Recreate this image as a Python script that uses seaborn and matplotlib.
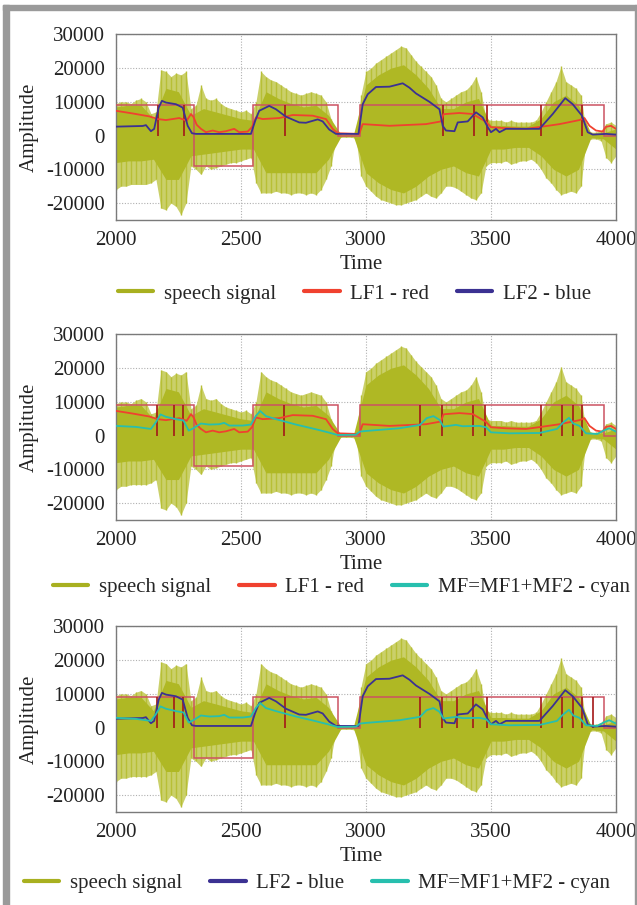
import matplotlib.pyplot as plt
import seaborn as sns
from matplotlib.patches import Rectangle
from matplotlib.lines import Line2D

# speech signal: spike peaks every 20 samples
sig_t = list(range(2000, 4001, 20))
sig_hi = [9500, 10000, 10000, 9500, 10500, 11000, 10000, 6500, 7000, 19500,
          19000, 17500, 18500, 18000, 19000, 8000, 9000, 15000, 11000, 10500,
          11000, 9500, 8500, 8000, 7500, 7000, 7500, 6500, 10000, 19000,
          17500, 16500, 16000, 15000, 14000, 13000, 12500, 12000, 12500, 13000,
          12500, 12000, 10000, 5000, 1000, 500, 500, 500, 800, 12000,
          19000, 20000, 21500, 22500, 23500, 24500, 25500, 26500, 26000, 24000,
          22000, 20500, 19000, 17500, 15000, 11000, 10000, 11000, 12000, 13000,
          13500, 15000, 17500, 13000, 5000, 4500, 4500, 4500, 4000, 4500,
          4000, 4000, 4000, 4000, 4500, 7000, 10000, 13000, 16000, 20500,
          16000, 15000, 14000, 12000, 1500, 1000, 1000, 1500, 3500, 4000, 3000]
sig_lo = [-16000, -15000, -15000, -14500, -14500, -14500, -14500, -14000, -13000, -21500,
          -22000, -20000, -21000, -23500, -20000, -9000, -10000, -11500, -9000, -10000,
          -9500, -9000, -8500, -8000, -8000, -7500, -7000, -6500, -14000, -17000,
          -17000, -17000, -16500, -17000, -17000, -17500, -17000, -17000, -17500, -17000,
          -17500, -16000, -13000, -9000, -1000, -500, -500, -500, -800, -12000,
          -15000, -16500, -18000, -19000, -19500, -20000, -20500, -20500, -20000, -19500,
          -19000, -18000, -17000, -18000, -18500, -17000, -15000, -15000, -15500, -16500,
          -17500, -18500, -19000, -17000, -9000, -8000, -8000, -8000, -7500, -8500,
          -8000, -7500, -7500, -7000, -8000, -10000, -12500, -14000, -16000, -17500,
          -17000, -16500, -17000, -15000, -1500, -1000, -1000, -1500, -6500, -8000, -6000]

# dense core of the signal
core_t = list(range(2000, 4001, 50))
core_hi = [8500, 9000, 9000, 5000, 14000, 13000, 6000, 8000, 7000, 6000,
           5000, 4500, 13000, 11000, 9500, 8500, 9000, 6000, 300, 300,
           15000, 18000, 20000, 21000, 18000, 14000, 8000, 8000, 10000, 11000,
           3000, 3000, 2800, 2800, 5000, 10000, 12000, 9000, 600, 800, 2000]
core_lo = [-8000, -7500, -7500, -7000, -13000, -13000, -6000, -5500, -5000, -4500,
           -4000, -4000, -11000, -11000, -11000, -11000, -11000, -7000, -300, -300,
           -11000, -14000, -16000, -17000, -15000, -12000, -10000, -9000, -11000, -12000,
           -4000, -4000, -3500, -3500, -6000, -10000, -12000, -10000, -600, -1000, -4000]

# segmentation box
box_edges = [2000, 2313, 2550, 2889, 2975, 3951, 4000]
box_levels = [9000, -9000, 9000, 0, 9000, 0]

seg1 = [2167, 2273, 2677, 3307, 3431, 3483, 3700, 3863]
seg2 = [2164, 2231, 2270, 2674, 3218, 3304, 3430, 3478, 3700, 3784, 3827, 3863]
seg3 = [2164, 2231, 2270, 2676, 3218, 3304, 3363, 3430, 3483, 3700, 3784, 3827,
        3863, 3907]

lf1_t = [2000, 2067, 2133, 2167, 2200, 2253, 2283, 2300, 2311, 2323, 2340, 2360,
         2387, 2413, 2440, 2473, 2493, 2527, 2544, 2560, 2587, 2653, 2707, 2787,
         2840, 2867, 2887, 2973, 2987, 3094, 3240, 3300, 3310, 3320, 3374, 3427,
         3480, 3500, 3560, 3640, 3700, 3774, 3854, 3874, 3894, 3920, 3947, 3960,
         3980, 4000]
lf1_v = [7350, 6560, 5700, 4900, 4600, 5200, 4400, 6400, 5400, 3200, 2000, 1000,
         1500, 1000, 1300, 2000, 1000, 1200, 2500, 5400, 4900, 5200, 6100, 5900,
         4900, 2000, 700, 500, 3400, 2900, 3400, 4200, 6300, 6400, 6700, 6400,
         4100, 2500, 2200, 2000, 2600, 3400, 4600, 5200, 2900, 1500, 1200, 2600,
         2900, 2000]

lf2_t = [2000, 2107, 2120, 2140, 2153, 2171, 2184, 2200, 2240, 2267, 2287, 2304,
         2320, 2540, 2557, 2573, 2613, 2640, 2680, 2733, 2760, 2807, 2827, 2853,
         2880, 2970, 2987, 3007, 3040, 3094, 3147, 3174, 3200, 3254, 3294, 3307,
         3320, 3354, 3367, 3407, 3440, 3467, 3487, 3500, 3520, 3534, 3560, 3694,
         3747, 3797, 3827, 3864, 3887, 3907, 3960, 4000]
lf2_v = [2650, 2850, 3100, 1300, 2000, 8300, 10300, 9800, 9300, 8300, 2900, 700,
         500, 500, 4400, 7350, 8800, 7800, 5600, 3900, 3800, 4800, 4200, 1800,
         500, 500, 9300, 12250, 14400, 14500, 15500, 14200, 12500, 10000, 7800, 2900,
         1500, 1300, 3900, 4200, 6900, 5400, 2500, 1000, 2000, 1000, 2000, 2000,
         6400, 11100, 9300, 5900, 1000, 300, 500, 300]

mf_t = [2000, 2080, 2140, 2160, 2178, 2200, 2240, 2270, 2291, 2307, 2340, 2373,
        2413, 2433, 2453, 2507, 2540, 2560, 2577, 2600, 2640, 2720, 2800, 2853,
        2887, 2960, 2975, 3000, 3134, 3216, 3243, 3270, 3294, 3310, 3360, 3387,
        3454, 3480, 3500, 3574, 3694, 3764, 3787, 3812, 3829, 3854, 3880, 3925,
        3953, 3973, 4000]
mf_v = [2900, 2600, 2000, 4000, 6300, 5600, 4900, 4500, 1500, 2100, 3600, 3300,
        3400, 3800, 3000, 3000, 3300, 5900, 7300, 5800, 4900, 3300, 1900, 900,
        200, 300, 1200, 1400, 2200, 3200, 5200, 5800, 4700, 2700, 3200, 2800,
        2900, 2500, 1000, 700, 800, 2000, 3800, 5300, 3600, 2900, 700, 500,
        1600, 2200, 1200]

OLIVE = "#afb824"
OLIVE_LT = "#cad06a"
OLIVE_MID = "#b7bf36"
RED = "#f0412f"
BLUE = "#3b3192"
CYAN = "#27bfae"
BOX = "#cc5262"
SEG = "#a41818"

sns.set_theme(style="whitegrid")
plt.rcParams["font.family"] = ["Liberation Serif", "DejaVu Serif"]
plt.rcParams["axes.unicode_minus"] = False

fig = plt.figure(figsize=(6.37, 9.05), dpi=100)

# (axes bottom, segment lines, curves, legend x px, legend y px)
panels = [
    (0.757, seg1, ["lf1", "lf2"], 118, 294),
    (0.4254, seg2, ["lf1", "mf"], 53, 587),
    (0.1028, seg3, ["lf2", "mf"], 24, 883),
]
curves = {
    "lf1": (lf1_t, lf1_v, RED, "LF1 - red"),
    "lf2": (lf2_t, lf2_v, BLUE, "LF2 - blue"),
    "mf": (mf_t, mf_v, CYAN, "MF=MF1+MF2 - cyan"),
}

for bottom, seg, names, leg_x, leg_y in panels:
    ax = fig.add_axes([0.182, bottom, 0.785, 0.205])
    ax.set_facecolor("white")
    ax.fill_between(sig_t, sig_lo, sig_hi, color=OLIVE_LT, lw=0, zorder=1)
    ax.vlines(sig_t, sig_lo, sig_hi, color=OLIVE_MID, lw=1.0, zorder=1.5)
    ax.fill_between(core_t, core_lo, core_hi, color=OLIVE, lw=0, zorder=1.6)
    ax.stairs(box_levels, box_edges, color=BOX, lw=1.1, zorder=3, baseline=None)
    ax.vlines(seg, 0, 9000, color=SEG, lw=1.2, zorder=3.5)
    handles = [Line2D([], [], color="#a8b020", lw=3, label="speech signal")]
    for n in names:
        t, v, c, lab = curves[n]
        sns.lineplot(x=t, y=v, ax=ax, color=c, lw=1.3, zorder=4)
        handles.append(Line2D([], [], color=c, lw=3, label=lab))

    ax.set_xlim(2000, 4000)
    ax.set_ylim(-25000, 30000)
    ax.set_xticks(range(2000, 4001, 500))
    ax.set_yticks(range(-20000, 30001, 10000))
    ax.grid(True, color="#b0b0b0", ls=(0, (1, 1.5)), lw=0.8)
    for s in ax.spines.values():
        s.set_color("#7a7a7a")
        s.set_linewidth(1.0)
    ax.tick_params(length=0, labelsize=15, colors="#222222")
    ax.tick_params(axis="x", pad=8)
    ax.tick_params(axis="y", pad=8)
    ax.set_xlabel("Time", fontsize=15, color="#222222")
    ax.set_ylabel("Amplitude", fontsize=15, color="#222222")
    ax.xaxis.set_label_coords(0.49, -0.19)
    ax.yaxis.set_label_coords(-0.155, 0.5)

    fig.legend(handles=handles, loc="center left",
               bbox_to_anchor=(leg_x / 637, 1 - leg_y / 905), ncol=3, frameon=False,
               fontsize=15, handlelength=1.7, handletextpad=0.5,
               columnspacing=1.35, borderpad=0, borderaxespad=0)

# grey frame around the figure
fig.patches.append(Rectangle((3 / 637, 0), 5.5 / 637, 1 - 5 / 905,
                             transform=fig.transFigure, color="#9a9a9a", zorder=10))
fig.patches.append(Rectangle((3 / 637, 1 - 10 / 905), 1 - 3 / 637, 5 / 905,
                             transform=fig.transFigure, color="#9a9a9a", zorder=10))
fig.patches.append(Rectangle((1 - 2.5 / 637, 0), 1.2 / 637, 1 - 5 / 905,
                             transform=fig.transFigure, color="#9a9a9a", zorder=10))

fig.savefig("out.png", dpi=100, facecolor="white")
